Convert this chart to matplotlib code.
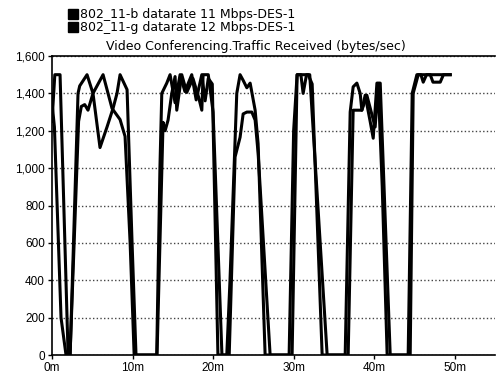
import matplotlib
matplotlib.use("Agg")
import matplotlib.pyplot as plt
from matplotlib.lines import Line2D
from matplotlib.ticker import FuncFormatter

plt.rcParams['font.family'] = ['Liberation Sans', 'DejaVu Sans']

## series (time in minutes, bytes/sec)
t_b = [0, 0.35, 1.0, 2.0, 2.25, 3.23, 3.44, 4.35, 5.09, 6.34, 7.45, 8.45, 9.07, 9.7, 10.2,
       13.0, 13.4, 13.63, 14.25, 14.66, 15.28, 15.9, 16.5, 17.35, 17.9, 18.6, 19.01, 19.4,
       19.9, 20.6, 21.7, 22.1, 22.94, 23.35, 23.73, 24.19, 24.6, 25.22, 25.59, 26.46,
       29.44, 30.0, 30.43, 31.8, 32.3, 33.54, 36.4, 37.02, 37.39, 37.85, 38.26, 38.47,
       39.09, 40.12, 40.5, 41.0, 41.61, 44.22, 44.72, 45.3, 49.44]
v_b = [1250, 1500, 1500, 0, 0, 1400, 1440, 1500, 1400, 1500, 1320, 1260, 1170, 600, 0,
       0, 1000, 1400, 1455, 1500, 1350, 1500, 1410, 1500, 1365, 1500, 1360, 1480,
       1450, 0, 0, 400, 1400, 1500, 1470, 1430, 1455, 1310, 1130, 0,
       0, 1200, 1500, 1500, 1450, 0, 0, 1300, 1435, 1455, 1400, 1310,
       1390, 1220, 1444, 900, 0, 0, 1400, 1500, 1500]

t_g = [0, 0.3, 1.12, 1.74, 2.24, 3.3, 3.64, 4.06, 4.47, 5.09, 5.96, 6.83, 7.58, 8.07, 8.45,
       9.32, 9.94, 10.43, 13.04, 13.79, 14.04, 14.41, 14.87, 15.28, 15.49, 16.11, 16.73,
       17.5, 18.2, 18.6, 18.76, 19.4, 20.0, 21.1, 22.0, 22.73, 23.35, 23.73, 24.19, 24.81,
       25.22, 25.59, 27.08, 29.81, 30.43, 30.9, 31.18, 31.6, 32.0, 34.16, 36.77, 37.39,
       38.47, 38.88, 39.5, 39.88, 40.34, 40.75, 41.99, 44.47, 44.84, 45.47, 45.8, 46.09,
       46.5, 46.96, 47.3, 48.2, 48.6, 49.44]
v_g = [1350, 1220, 200, 0, 0, 1250, 1330, 1340, 1310, 1400, 1110, 1220, 1320, 1400, 1500,
       1420, 600, 0, 0, 1245, 1200, 1257, 1400, 1490, 1310, 1500, 1405,
       1480, 1380, 1310, 1500, 1500, 1300, 0, 0, 1060, 1165, 1290, 1300, 1300,
       1257, 1080, 0, 0, 1500, 1500, 1400, 1500, 1500, 0, 0, 1310,
       1310, 1390, 1250, 1160, 1455, 1455, 0, 0, 1400, 1500, 1500, 1460,
       1500, 1500, 1460, 1460, 1500, 1500]

labels = ['802_11-b datarate 11 Mbps-DES-1', '802_11-g datarate 12 Mbps-DES-1']
title = 'Video Conferencing.Traffic Received (bytes/sec)'
xticks = [0, 10, 20, 30, 40, 50]
yticks = [0, 200, 400, 600, 800, 1000, 1200, 1400, 1600]

fig = plt.figure(figsize=(4.96, 3.74), dpi=100)
ax = fig.add_axes([52 / 496, 1 - 355 / 374, 443 / 496, 299 / 374])

ax.plot(t_b, v_b, color='black', lw=2.2, solid_joinstyle='round')
ax.plot(t_g, v_g, color='black', lw=2.2, solid_joinstyle='round')

ax.set_xlim(0, 55)
ax.set_ylim(0, 1600)
ax.set_xticks(xticks)
ax.set_xticklabels(['{}m'.format(x) for x in xticks])
ax.set_yticks(yticks)
ax.yaxis.set_major_formatter(FuncFormatter(lambda v, p: '{:,.0f}'.format(v)))
ax.tick_params(labelsize=8.5, length=3, width=1, pad=2)
ax.yaxis.grid(True, linestyle=':', color='#444444', lw=1)
ax.set_axisbelow(True)
for s in ['left', 'bottom', 'top']:
    ax.spines[s].set_linewidth(1.2)
ax.spines['right'].set_visible(False)

ax.set_title(title, fontsize=9, pad=4, family='DejaVu Sans', x=0.46)

handles = [Line2D([], [], ls='', marker='s', color='black', markersize=7) for _ in labels]
fig.legend(handles, labels, loc='upper left', bbox_to_anchor=(63 / 496, 1 - 3 / 374),
           frameon=False, prop={'family': 'DejaVu Sans', 'size': 9}, handletextpad=0.2,
           labelspacing=0.0, handlelength=0.8, borderaxespad=0)

fig.savefig('out.png', dpi=100)
